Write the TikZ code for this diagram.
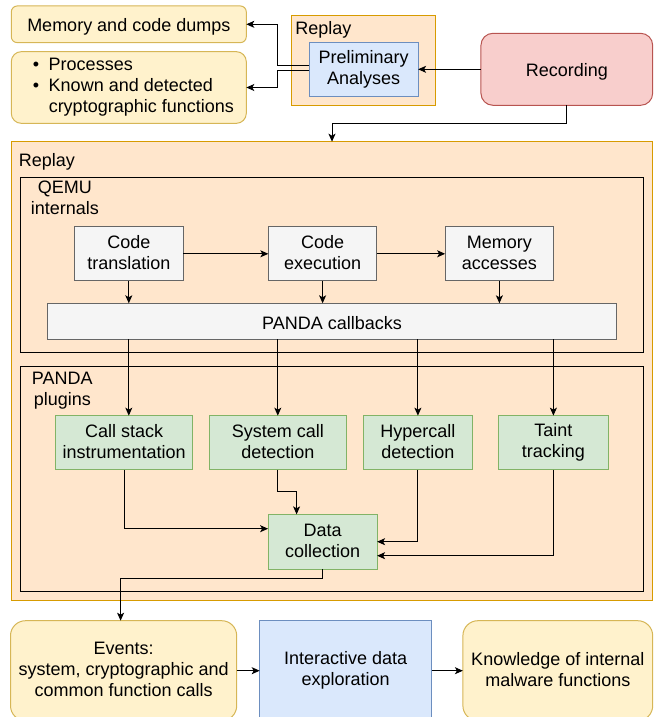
\documentclass[tikz,border=0pt]{standalone}
\usepackage{fontspec}
\setmainfont{Liberation Sans}
\usetikzlibrary{arrows.meta}
\definecolor{noteFill}{HTML}{FFF2CC}
\definecolor{noteLine}{HTML}{D6B656}
\definecolor{replayFill}{HTML}{FFE6CC}
\definecolor{replayLine}{HTML}{D79B00}
\definecolor{blueFill}{HTML}{DAE8FC}
\definecolor{blueLine}{HTML}{6C8EBF}
\definecolor{redFill}{HTML}{F8CECC}
\definecolor{redLine}{HTML}{B85450}
\definecolor{greenFill}{HTML}{D5E8D4}
\definecolor{greenLine}{HTML}{82B366}
\definecolor{grayFill}{HTML}{F5F5F5}
\definecolor{grayLine}{HTML}{666666}
\newcommand{\boxstrut}{\rule[-2.5pt]{0pt}{21pt}}

\begin{document}
\begin{tikzpicture}[x=1pt,y=-1pt,
  every node/.style={font=\fontsize{18}{21}\selectfont,inner sep=0pt,outer sep=0pt,align=center,
    execute at begin node=\boxstrut,execute at end node=\boxstrut},
  arr/.style={line width=1pt,-{Stealth[length=8pt,width=7pt,inset=2pt]}},
  notebox/.style={draw=noteLine,fill=noteFill,line width=1pt},
  replaybox/.style={draw=replayLine,fill=replayFill,line width=1pt},
  bluebox/.style={draw=blueLine,fill=blueFill,line width=1pt},
  redbox/.style={draw=redLine,fill=redFill,line width=1pt},
  greenbox/.style={draw=greenLine,fill=greenFill,line width=1pt,minimum height=54.3},
  graybox/.style={draw=grayLine,fill=grayFill,line width=1pt,minimum height=54.3},
  framebox/.style={draw=black,line width=1pt,minimum width=623.8}]
  \useasboundingbox (0,0) rectangle (654,717);
  \clip (0,0) rectangle (654,717);

  \node[replaybox,minimum width=144.5,minimum height=89.6] (replaysmall) at (363.45,60.5) {};
  \node[anchor=west] (replaysmalllbl) at (295.4,26.7) {Replay};
  \node[bluebox,minimum width=109,minimum height=54] (prelim) at (363.6,69.3) {Preliminary\\Analyses};
  \node[redbox,rounded corners=12,minimum width=171.7,minimum height=72] (rec) at (566.8,69.3) {Recording};
  \node[notebox,rounded corners=6,minimum width=235,minimum height=36.7] (dumps) at (128.8,24.3) {Memory and code dumps};
  \node[notebox,rounded corners=10,minimum width=235,minimum height=71.7,align=left] (procs) at (128.8,87.5)
    {\hspace*{9pt}\makebox[16pt][l]{\textbullet}Processes\\
     \hspace*{9pt}\makebox[16pt][l]{\textbullet}Known and detected\\
     \hspace*{25pt}cryptographic functions};

  \node[replaybox,minimum width=641.4,minimum height=458.3] (replay) at (332,370.85) {};
  \node[anchor=west] (replaylbl) at (18.9,159.3) {Replay};

  \node[framebox,minimum height=175.4] (qemu) at (332,265) {};
  \node (qemulbl) at (64.8,199.2) {QEMU\\internals};
  \node[graybox,minimum width=108.5] (ctrans) at (128.8,253.8) {Code\\translation};
  \node[graybox,minimum width=108.5] (cexec) at (322.6,253.8) {Code\\execution};
  \node[graybox,minimum width=108.5] (memacc) at (499.4,253.8) {Memory\\accesses};
  \node[graybox,minimum width=569.4,minimum height=36] (callbacks) at (332,321.3) {PANDA callbacks};

  \node[framebox,minimum height=225] (plugins) at (332,478.5) {};
  \node (pluginslbl) at (62.3,390.8) {PANDA\\plugins};
  \node[greenbox,minimum width=137] (cstack) at (124.2,442.8) {Call stack\\instrumentation};
  \node[greenbox,minimum width=136.6] (syscall) at (277.8,442.8) {System call\\detection};
  \node[greenbox,minimum width=109.3] (hypercall) at (417.9,442.8) {Hypercall\\detection};
  \node[greenbox,minimum width=109.8] (taint) at (553.4,442.8) {Taint\\tracking};
  \node[greenbox,minimum width=109,minimum height=54.7] (datacoll) at (322.6,541.7) {Data\\collection};

  \node[notebox,rounded corners=15,minimum width=226.2,minimum height=100] (events) at (123.6,670.7)
    {Events:\\system, cryptographic and\\common function calls};
  \node[bluebox,minimum width=171.8,minimum height=100] (explore) at (345.6,670.7) {Interactive data\\exploration};
  \node[notebox,rounded corners=15,minimum width=189.8,minimum height=100] (knowledge) at (557.8,670.7)
    {Knowledge of internal\\malware functions};

  \draw[arr] (rec.west) -- (prelim.east);
  \draw[arr] ([yshift=4pt]prelim.west) -- ++(-32,0) |- (dumps.east);
  \draw[arr] ([yshift=-1pt]prelim.west) -- ++(-32,0) |- (procs.east);
  \draw[arr] (rec.south) -- ++(0,18) -| (replay.north);

  \draw[arr] (ctrans.east) -- (cexec.west);
  \draw[arr] (cexec.east) -- (memacc.west);
  \draw[arr] (ctrans.south) -- (ctrans |- callbacks.north);
  \draw[arr] (cexec.south) -- (cexec |- callbacks.north);
  \draw[arr] (memacc.south) -- (memacc |- callbacks.north);

  \draw[arr] (callbacks.south -| ctrans) -- (cstack.north -| ctrans);
  \draw[arr] (callbacks.south -| syscall) -- (syscall.north);
  \draw[arr] (callbacks.south -| hypercall) -- (hypercall.north);
  \draw[arr] (callbacks.south -| taint) -- (taint.north);

  \draw[arr] (cstack.south) |- ([yshift=13pt]datacoll.west);
  \draw[arr] (syscall.south) -- ++(0,22) -| ([xshift=-26pt]datacoll.north);
  \draw[arr] (hypercall.south) |- (datacoll.east);
  \draw[arr] (taint.south) |- ([yshift=-14pt]datacoll.east);
  \draw[arr] (datacoll.south) -- ++(0,9) -| ([xshift=-3pt]events.north);

  \draw[arr] (events.east) -- (explore.west);
  \draw[arr] (explore.east) -- (knowledge.west);
\end{tikzpicture}
\end{document}
